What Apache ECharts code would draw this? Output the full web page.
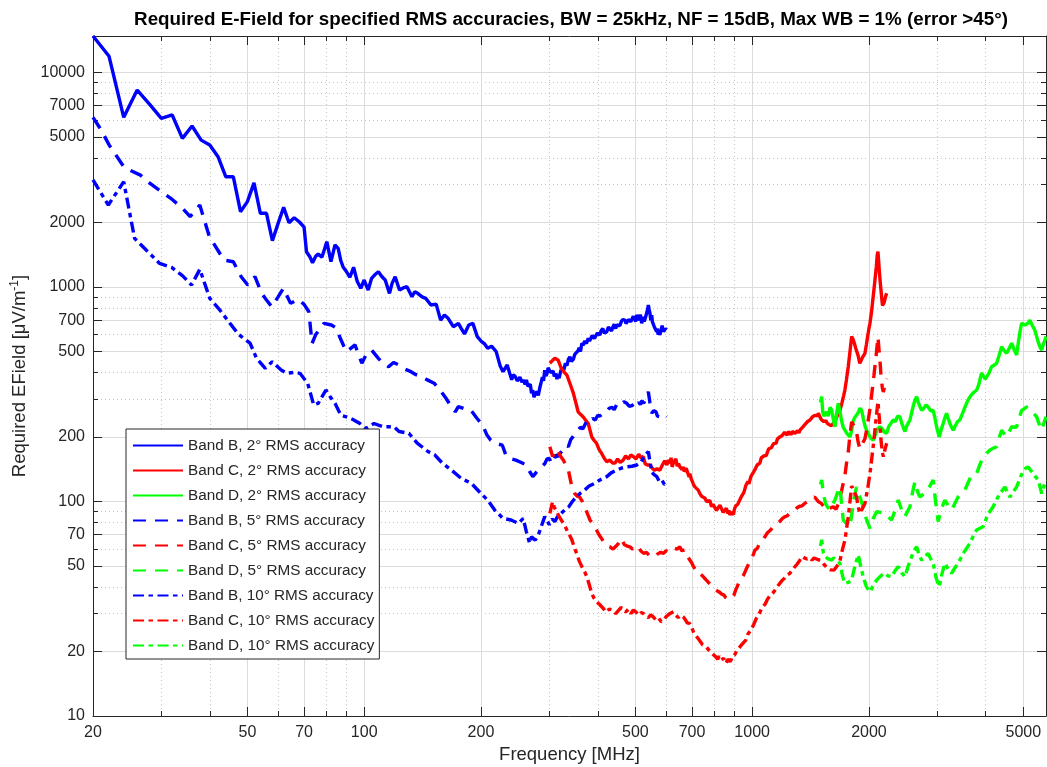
<!DOCTYPE html>
<html>
<head>
<meta charset="utf-8">
<script src="https://cdn.jsdelivr.net/npm/echarts@6/dist/echarts.min.js"></script>
<style>
  html, body { margin: 0; padding: 0; background: #fff; }
  #chart { width: 1047px; height: 767px; }
</style>
</head>
<body>
<div id="chart"></div>
<script>
// tick values (MATLAB style log axes)
const xMajor = [20, 50, 70, 100, 200, 500, 700, 1000, 2000, 5000]
const xMinor = [30, 40, 60, 80, 90, 300, 400, 600, 800, 900, 3000, 4000]
const yMajor = [10, 20, 50, 70, 100, 200, 500, 700, 1000, 2000, 5000, 7000, 10000]
const yMinor = [30, 40, 60, 80, 90, 300, 400, 600, 800, 900, 3000, 4000, 6000, 8000, 9000]

// [frequency MHz, required field uV/m]
const bandB2 = [[20, 14800], [22, 11900], [24, 6180], [26, 8280], [28, 7100], [30, 6115], [32, 6340], [34, 4930], [36, 5630], [38, 4840], [40, 4590], [42, 4050], [44, 3265], [46, 3265], [48, 2245], [50, 2500], [52, 3060], [54, 2206], [56, 2206], [58, 1645], [60, 1980], [62, 2352], [64, 1994], [66, 2104], [68, 2015], [70, 1900], [71, 1461], [72.5, 1380], [73.6, 1298], [75, 1390], [76.1, 1426], [77.8, 1376], [79, 1500], [80.1, 1627], [82.1, 1312], [84.1, 1570], [85.7, 1514], [87, 1330], [88.3, 1236], [90, 1180], [91.9, 1110], [93.9, 1236], [96, 1060], [98, 986], [100, 1078], [102.4, 968], [104.5, 1098], [106.5, 1140], [108.8, 1178], [111, 1120], [113.3, 1078], [116.2, 934], [118, 1040], [120.2, 1117], [123.3, 968], [126, 990], [128.9, 1003], [132.8, 901], [135, 950], [137.4, 934], [141, 900], [144.1, 885], [148.6, 824], [153.3, 832], [157.4, 701], [161, 740], [164.6, 715], [169.7, 653], [174.9, 677], [178, 640], [181.4, 604], [186, 665], [190.6, 677], [195.7, 587], [200, 560], [204, 545], [208.1, 518], [213, 530], [218.9, 500], [224, 430], [228, 403], [233.7, 433], [240, 369], [242, 390], [245, 383], [248, 365], [252, 380], [255, 360], [257, 369], [260, 352], [262, 369], [264, 345], [266, 340], [268, 352], [270, 320], [272, 330], [274, 306], [276, 318], [279, 325], [281, 312], [284, 343], [286, 360], [288, 380], [290, 365], [292, 410], [294, 385], [296, 395], [298, 420], [300, 418], [302, 400], [305, 395], [307, 405], [309, 383], [312, 395], [314, 372], [316, 390], [318, 376], [321, 405], [324, 422], [327, 410], [330, 440], [333, 430], [336, 460], [339, 473], [342, 450], [346, 460], [349, 485], [353, 482], [356, 505], [358, 520], [361, 500], [364, 547], [367, 535], [370, 560], [374, 545], [378, 577], [381, 560], [384, 570], [387, 595], [389, 587], [392, 575], [395, 590], [399, 610], [405, 598], [408, 625], [412, 640], [416, 610], [422, 619], [426, 650], [430, 640], [434, 625], [438, 653], [441, 670], [445, 640], [448, 665], [452, 677], [456, 660], [460, 690], [464, 705], [470, 701], [473, 675], [476, 680], [480, 705], [483, 714], [487, 690], [490, 700], [494, 730], [497, 720], [501, 690], [504, 740], [508, 720], [512, 700], [515, 745], [519, 677], [522, 700], [524, 727], [527, 690], [529, 700], [532, 730], [535, 760], [538, 790], [540, 824], [543, 780], [545, 760], [548, 700], [551, 740], [553, 690], [556, 680], [559, 655], [562, 642], [565, 665], [567, 620], [570, 640], [572, 600], [575, 615], [578, 598], [581, 620], [583, 630], [586, 660], [588, 642], [591, 620], [594, 610], [598, 640], [602, 632]]

const bandC2 = [[301, 441], [306, 455], [310, 465], [316, 457], [322, 418], [328, 400], [333, 389], [339, 356], [346, 320], [351, 290], [356, 262], [361, 255], [367, 248], [372, 240], [378, 231], [382, 215], [386, 200], [392, 192], [397, 187], [403, 175], [409, 168], [415, 160], [422, 153], [430, 156], [437, 151], [443, 151], [450, 158], [457, 152], [465, 156], [472, 163], [480, 158], [487, 165], [494, 162], [502, 158], [510, 166], [517, 160], [524, 162], [530, 150], [537, 148], [545, 148], [553, 143], [560, 140], [568, 142], [578, 140], [587, 148], [595, 155], [603, 148], [608, 156], [614, 151], [618, 160], [622, 145], [627, 152], [632, 149], [636, 158], [641, 146], [646, 150], [651, 145], [655, 148], [660, 141], [664, 145], [668, 138], [676, 143], [684, 140], [688, 130], [691, 135], [696, 128], [700, 125], [706, 120], [712, 117], [718, 118], [726, 113], [733, 109], [740, 106], [748, 107], [756, 103.5], [763, 100], [770, 98], [778, 101], [786, 94.6], [793, 97], [800, 96], [809, 91], [818, 92], [826, 96], [834, 94.6], [842, 89], [850, 90], [858, 93], [866, 88], [871, 91], [876, 86.5], [883, 89], [890, 90], [895, 87], [900, 92], [906, 95], [912, 94.6], [918, 97], [925, 100], [931, 99], [937, 105], [943, 104], [949, 109], [955, 112], [962, 118], [968, 116], [975, 124], [981, 121], [987, 126], [993, 131], [1000, 132], [1008, 137], [1015, 140], [1022, 138], [1030, 148], [1038, 146], [1047, 151], [1056, 160], [1065, 158], [1072, 163], [1080, 166], [1088, 164], [1095, 170], [1103, 176], [1111, 174], [1120, 178], [1128, 182], [1136, 186], [1145, 190], [1153, 187], [1162, 196], [1170, 193], [1179, 200], [1187, 198], [1195, 203], [1203, 199], [1212, 210], [1220, 214], [1230, 204], [1240, 212], [1251, 208], [1260, 205], [1270, 212], [1280, 216], [1290, 208], [1300, 211], [1310, 214], [1320, 209], [1328, 215], [1340, 219], [1350, 222], [1361, 226], [1372, 230], [1381, 228], [1390, 236], [1400, 233], [1410, 240], [1420, 244], [1430, 248], [1440, 245], [1450, 252], [1458, 249], [1466, 255], [1474, 251], [1481, 258], [1495, 248], [1510, 240], [1520, 243], [1530, 236], [1541, 235], [1550, 238], [1560, 232], [1570, 234], [1580, 228], [1590, 230], [1600, 226], [1610, 224], [1618, 227], [1630, 234], [1640, 240], [1650, 246], [1660, 252], [1672, 258], [1684, 267], [1695, 278], [1705, 290], [1720, 310], [1734, 331], [1750, 370], [1769, 425], [1787, 500], [1805, 588], [1820, 570], [1835, 545], [1848, 520], [1859, 527], [1875, 480], [1894, 441], [1910, 455], [1925, 470], [1940, 480], [1953, 491], [1970, 540], [1985, 590], [2000, 640], [2012, 677], [2030, 760], [2045, 860], [2060, 968], [2075, 1100], [2090, 1250], [2100, 1400], [2110, 1461], [2120, 1300], [2130, 1150], [2140, 1040], [2148, 968], [2160, 870], [2168, 820], [2178, 809], [2190, 850], [2200, 880], [2210, 910], [2222, 935]]

const bandD2 = [[1500, 290], [1511, 308], [1520, 262], [1530, 250], [1541, 245], [1556, 262], [1570, 250], [1588, 275], [1603, 266], [1620, 240], [1635, 223], [1650, 255], [1667, 287], [1685, 262], [1700, 238], [1717, 222], [1734, 215], [1760, 206], [1787, 200], [1805, 214], [1822, 238], [1840, 247], [1859, 253], [1880, 262], [1897, 272], [1915, 266], [1935, 243], [1955, 224], [1973, 215], [1995, 206], [2020, 198], [2051, 193], [2075, 204], [2100, 217], [2134, 223], [2160, 219], [2190, 211], [2222, 208], [2250, 224], [2280, 232], [2310, 240], [2340, 236], [2370, 250], [2404, 248], [2430, 232], [2455, 220], [2476, 212], [2500, 224], [2525, 232], [2551, 240], [2580, 262], [2610, 285], [2630, 298], [2655, 308], [2680, 290], [2710, 276], [2735, 266], [2770, 272], [2805, 282], [2842, 276], [2885, 265], [2928, 266], [2960, 244], [2990, 222], [3034, 200], [3070, 216], [3107, 231], [3140, 246], [3170, 258], [3210, 240], [3250, 226], [3297, 215], [3340, 226], [3385, 236], [3430, 240], [3475, 254], [3520, 270], [3569, 287], [3620, 302], [3677, 315], [3730, 323], [3790, 331], [3840, 352], [3875, 378], [3904, 397], [3950, 382], [3990, 372], [4021, 369], [4080, 398], [4142, 425], [4200, 432], [4267, 441], [4330, 480], [4396, 527], [4460, 505], [4527, 491], [4600, 518], [4665, 547], [4735, 510], [4805, 482], [4860, 560], [4910, 630], [4950, 677], [5000, 690], [5050, 665], [5098, 653], [5150, 680], [5200, 700], [5250, 672], [5300, 665], [5350, 630], [5412, 587], [5460, 555], [5520, 525], [5575, 508], [5620, 535], [5680, 565], [5720, 587]]

const bandB5 = [[20, 6180], [21, 5395], [22, 4600], [24, 3640], [24.6, 3535], [26.5, 3325], [28, 3050], [30, 2783], [32, 2560], [34, 2330], [35.6, 2130], [37.7, 2412], [39.9, 1716], [42, 1480], [43.5, 1336], [46, 1312], [48.2, 1117], [50.1, 1021], [52.3, 1117], [54.4, 935], [56, 870], [57.8, 809], [60, 900], [61.9, 986], [64.6, 839], [67.6, 876], [70, 830], [72, 767], [73.4, 546], [75, 600], [78.8, 677], [82.3, 665], [85, 642], [86.4, 588], [89.9, 500], [92, 515], [94.7, 537], [98.6, 441], [101, 480], [104.5, 508], [108.8, 465], [112, 440], [115.6, 425], [119, 445], [122.8, 433], [127, 415], [132, 403], [136, 390], [140, 383], [145, 370], [151.5, 356], [157, 330], [162.5, 303], [167, 280], [171.7, 262], [174.8, 277], [182, 270], [188.6, 266], [195, 245], [202, 227], [207, 205], [212, 193], [220, 186], [227, 183], [232.6, 162], [240, 158], [246, 156], [254, 152], [262, 148], [267, 138], [272, 130.6], [278, 137], [284, 143], [292, 150], [296, 158], [300, 159], [304, 150], [308, 155], [312, 165], [316, 162], [320, 168], [324, 172], [328, 178], [332, 183], [336, 180], [341, 195], [345, 200], [350, 208], [355, 214], [361, 222], [366, 218], [372, 231], [377, 240], [383, 236], [388, 244], [394, 240], [400, 252], [405, 250], [412, 258], [422, 262], [428, 272], [435, 275], [441, 268], [447, 282], [453, 290], [460, 285], [467, 292], [475, 287], [482, 278], [490, 280], [497, 286], [504, 277], [510, 290], [515, 283], [520, 295], [525, 287], [532, 300], [540, 325], [545, 290], [551, 258], [558, 265], [565, 262], [570, 250], [575, 255], [580, 248], [585, 252], [590, 255], [595, 250], [602, 248]]

const bandC5 = [[301, 180], [306, 162], [311, 175], [316, 171], [321, 162], [326, 156], [331, 148], [336, 140], [343, 117], [349, 109], [354, 106], [359, 105], [365, 100], [370, 94.6], [376, 88], [382, 82], [390, 78], [397, 73.7], [403, 70], [409, 67.3], [416, 64], [423, 62], [430, 61.5], [438, 60], [446, 62], [453, 64], [461, 67.3], [468, 63], [476, 62], [484, 61.5], [492, 60], [500, 62], [508, 61.5], [516, 59], [525, 57.3], [534, 58], [543, 56], [552, 55.4], [562, 55.4], [571, 57], [581, 58], [591, 57.3], [600, 59], [610, 58], [620, 59.4], [630, 60.5], [640, 60], [651, 61.5], [658, 59], [664, 58], [671, 59.5], [678, 56.4], [684, 55], [691, 53.3], [698, 52], [705, 50], [710, 49], [715, 48], [720, 49], [726, 47.9], [735, 46], [745, 45], [753, 44], [762, 43], [771, 42.2], [780, 41], [785, 41.5], [790, 40], [798, 39.5], [805, 38.7], [812, 39.3], [820, 38], [828, 37.5], [835, 37], [840, 37.6], [846, 36.6], [853, 35.8], [860, 35.5], [870, 35], [880, 34.7], [888, 35.6], [897, 36.5], [906, 38.5], [915, 40.1], [927, 42.4], [940, 44], [951, 45.5], [963, 47.9], [976, 50.5], [990, 53], [1003, 55.5], [1017, 59.4], [1031, 60.5], [1045, 64], [1062, 65.5], [1079, 68.6], [1095, 71.5], [1110, 73], [1128, 75.5], [1145, 77.7], [1162, 78.8], [1180, 81], [1197, 83.5], [1214, 84.9], [1232, 85.8], [1250, 88], [1270, 90], [1288, 91.2], [1306, 93.5], [1325, 95], [1345, 95.5], [1366, 98], [1385, 99.5], [1405, 101], [1427, 103.5], [1449, 105], [1480, 100], [1507, 98], [1530, 95], [1552, 91.2], [1585, 93], [1618, 94.6], [1645, 92], [1670, 98], [1700, 112], [1734, 132], [1750, 150], [1769, 170], [1787, 205], [1805, 235], [1830, 225], [1859, 210], [1875, 190], [1894, 176], [1920, 185], [1953, 196], [1985, 230], [2012, 270], [2035, 320], [2060, 387], [2085, 470], [2110, 585], [2125, 500], [2140, 430], [2148, 387], [2165, 340], [2178, 324], [2200, 350], [2222, 374]]

const bandD5 = [[1500, 120], [1511, 126], [1526, 109], [1545, 98], [1565, 94], [1587, 91.2], [1610, 97], [1635, 101.6], [1660, 110], [1683, 117], [1700, 98], [1717, 82], [1750, 79], [1787, 76.4], [1810, 90], [1835, 106], [1859, 117], [1878, 110], [1896, 105], [1930, 95], [1950, 88], [1973, 82], [2012, 75], [2050, 83], [2093, 89.6], [2140, 89], [2198, 88], [2240, 85], [2288, 82], [2330, 90], [2380, 101.6], [2425, 92], [2476, 84.9], [2515, 90], [2551, 94.6], [2590, 110], [2628, 124], [2665, 112], [2707, 105], [2760, 108], [2815, 111], [2870, 118], [2928, 126], [2970, 100], [3016, 80.6], [3070, 92], [3138, 101.6], [3200, 96], [3266, 91.2], [3330, 98], [3395, 105], [3460, 109], [3534, 113], [3600, 122], [3677, 133], [3730, 134], [3790, 135], [3860, 148], [3941, 162], [4020, 168], [4101, 174], [4180, 177], [4267, 180], [4330, 198], [4396, 215], [4460, 207], [4527, 200], [4600, 212], [4665, 223], [4735, 222], [4805, 223], [4880, 245], [4950, 266], [5020, 270], [5098, 276], [5170, 272], [5250, 266], [5330, 256], [5412, 248], [5490, 230], [5575, 215], [5650, 232], [5720, 248]]

const bandB10 = [[20, 3155], [21.9, 2412], [24, 3097], [25.6, 1686], [27.5, 1480], [29.7, 1288], [31.9, 1234], [34, 1130], [35.9, 1022], [37.7, 1209], [40, 885], [42.1, 796], [45.1, 677], [47.5, 600], [50.8, 547], [52.8, 465], [55.6, 418], [57.9, 448], [61.1, 410], [63.2, 396], [66, 400], [68.3, 396], [71.5, 356], [74.1, 282], [76.1, 287], [79.7, 331], [82, 305], [84.1, 287], [87, 253], [91.8, 245], [94, 240], [97.5, 231], [101, 219], [106, 231], [112, 223], [119.3, 223], [123, 212], [130.4, 208], [137, 187], [146, 171], [152, 165], [159, 151], [168, 140], [178, 128], [189, 121.5], [200, 109], [208, 101.6], [217, 91.2], [228, 83.4], [239, 82], [250, 79.1], [257, 83.4], [262, 72], [267, 63.8], [270, 68.5], [276, 66], [282, 71], [292, 85], [300, 78], [305, 83], [310, 80.6], [316, 86], [322, 88], [330, 92], [337, 94.6], [344, 100], [352, 105], [360, 109], [370, 113], [380, 118], [393, 121.5], [405, 126], [422, 130.6], [433, 136], [447, 140], [460, 143], [475, 145], [490, 146], [504, 148], [516, 152], [527, 162], [540, 171], [551, 137], [560, 133], [568, 130.6], [576, 124], [585, 126], [594, 120], [602, 121.5]]

const bandC10 = [[301, 88], [306, 99.7], [309, 94], [312, 91.2], [317, 86], [322, 82], [328, 78], [333, 73.7], [338, 70], [343, 66.3], [348, 61], [353, 57.3], [358, 53], [364, 49.7], [370, 47], [375, 44.6], [381, 40.5], [386, 37.3], [391, 35.5], [397, 34.1], [405, 33], [413, 31.8], [420, 30.5], [428, 31.5], [437, 31.2], [445, 30], [452, 31], [459, 32], [465, 31.8], [472, 30.5], [480, 31.5], [487, 30], [494, 31.2], [502, 30.5], [510, 29.5], [517, 30.3], [524, 30.1], [532, 29.3], [540, 28.8], [548, 29.6], [556, 29], [565, 28], [574, 28.6], [583, 27.5], [591, 28], [600, 29], [610, 29.8], [618, 30.2], [627, 30.6], [636, 29.5], [645, 28.8], [655, 29.5], [664, 29], [672, 28.2], [680, 27.2], [690, 27], [698, 26], [708, 24.3], [720, 23.4], [732, 22.5], [745, 21.5], [762, 21], [770, 20.6], [778, 20], [784, 20.3], [790, 19.5], [798, 19.2], [805, 18.9], [815, 18.4], [822, 19], [827, 18.9], [833, 18.2], [838, 18], [844, 18.6], [849, 18.2], [855, 17.6], [860, 17.8], [866, 18.4], [872, 18.5], [877, 17.9], [883, 18.3], [888, 19], [894, 18.9], [900, 19.2], [907, 19.5], [914, 20.2], [921, 20.3], [930, 21], [940, 21.5], [951, 21.8], [963, 22.6], [974, 24], [985, 24.5], [998, 25.6], [1012, 27], [1025, 28.5], [1038, 29.5], [1052, 31], [1065, 32.3], [1080, 33.2], [1095, 35], [1112, 36.4], [1129, 37.3], [1145, 38.6], [1160, 40], [1178, 41.5], [1197, 43], [1213, 44], [1230, 45.5], [1250, 46.2], [1269, 47.9], [1287, 49.5], [1305, 51], [1325, 53], [1346, 55.4], [1365, 54.5], [1385, 54], [1405, 54.8], [1427, 53.3], [1444, 54.5], [1460, 54], [1480, 53.5], [1499, 53.3], [1530, 51], [1564, 48.9], [1595, 48], [1626, 47.9], [1655, 50], [1684, 53], [1710, 60], [1734, 66], [1752, 75], [1769, 85], [1787, 100], [1805, 118], [1830, 112], [1859, 105], [1875, 95], [1894, 88], [1920, 92], [1953, 98], [1985, 115], [2012, 135], [2035, 160], [2060, 194], [2085, 240], [2110, 292], [2125, 250], [2140, 215], [2148, 194], [2165, 170], [2178, 162], [2200, 175], [2222, 187]]

const bandD10 = [[1500, 62], [1511, 66.3], [1525, 58], [1541, 55.4], [1570, 54], [1603, 53.3], [1620, 54.5], [1635, 55.4], [1660, 53], [1683, 51.5], [1710, 45], [1734, 41.5], [1770, 42], [1805, 43], [1840, 50], [1877, 56.4], [1905, 50], [1933, 44.6], [1970, 40], [2012, 37.9], [2050, 40.5], [2093, 43], [2145, 45], [2198, 46.3], [2240, 45], [2288, 44.6], [2335, 47.5], [2380, 49.7], [2430, 46.5], [2476, 44.6], [2525, 50], [2577, 55.4], [2615, 59], [2655, 61.5], [2695, 56], [2735, 53.3], [2790, 55.5], [2842, 57.3], [2885, 54], [2928, 51.5], [2980, 44], [3034, 40.1], [3085, 46], [3138, 51.5], [3200, 48.5], [3266, 46.3], [3330, 49], [3395, 51.5], [3450, 54.5], [3499, 57.3], [3570, 60.5], [3640, 63.8], [3715, 69], [3790, 73.7], [3865, 75], [3941, 76.4], [4000, 82], [4060, 88], [4120, 91], [4180, 94.6], [4265, 102], [4352, 109], [4420, 113], [4482, 117], [4550, 110], [4618, 105], [4710, 111], [4805, 117], [4900, 128], [5000, 140], [5070, 143], [5146, 145], [5220, 140], [5300, 135], [5380, 130], [5463, 126], [5520, 117], [5575, 109], [5650, 118], [5720, 126]]

const xMin = 20
const xMax = 5720
const yMin = 10
const yMax = 14800

const font = 'Liberation Sans, Arial, Helvetica, sans-serif'
const axisColor = '#262626'
const dashed = [13, 9]
const dashDot = [11, 4.5, 4.5, 4.5]

function makeSeries (name, data, color, type) {
  return {
    name: name,
    type: 'line',
    data: data,
    showSymbol: false,
    symbol: 'none',
    clip: true,
    lineStyle: { color: color, width: 3.4, type: type },
    itemStyle: { color: color }
  }
}

const series = [
  makeSeries('Band B, 2° RMS accuracy', bandB2, '#0000ff', 'solid'),
  makeSeries('Band C, 2° RMS accuracy', bandC2, '#ff0000', 'solid'),
  makeSeries('Band D, 2° RMS accuracy', bandD2, '#00ff00', 'solid'),
  makeSeries('Band B, 5° RMS accuracy', bandB5, '#0000ff', dashed),
  makeSeries('Band C, 5° RMS accuracy', bandC5, '#ff0000', dashed),
  makeSeries('Band D, 5° RMS accuracy', bandD5, '#00ff00', dashed),
  makeSeries('Band B, 10° RMS accuracy', bandB10, '#0000ff', dashDot),
  makeSeries('Band C, 10° RMS accuracy', bandC10, '#ff0000', dashDot),
  makeSeries('Band D, 10° RMS accuracy', bandD10, '#00ff00', dashDot)
]

// one axis for major ticks/grid, one for minor, on each side
function xAxisOf (position, values, major, withLabel) {
  return {
    type: 'log',
    min: xMin,
    max: xMax,
    position: position,
    axisLine: { show: major, onZero: false, lineStyle: { color: axisColor, width: 1 } },
    axisTick: { show: true, inside: true, length: major ? 9 : 5, customValues: values, lineStyle: { color: axisColor } },
    axisLabel: {
      show: withLabel,
      customValues: values,
      formatter: function (v) { return String(Math.round(v)) },
      fontSize: 16,
      fontFamily: font,
      color: axisColor,
      margin: 9
    },
    splitLine: {
      show: position === 'bottom',
      lineStyle: major ? { color: '#dcdcdc', width: 1 } : { color: '#c4c4c4', width: 1, type: [1, 3] }
    }
  }
}

function yAxisOf (position, values, major, withLabel) {
  return {
    type: 'log',
    min: yMin,
    max: yMax,
    position: position,
    axisLine: { show: major, onZero: false, lineStyle: { color: axisColor, width: 1 } },
    axisTick: { show: true, inside: true, length: major ? 9 : 5, customValues: values, lineStyle: { color: axisColor } },
    axisLabel: {
      show: withLabel,
      customValues: values,
      formatter: function (v) { return String(Math.round(v)) },
      fontSize: 16,
      fontFamily: font,
      color: axisColor,
      margin: 8
    },
    splitLine: {
      show: position === 'left',
      lineStyle: major ? { color: '#dcdcdc', width: 1 } : { color: '#c4c4c4', width: 1, type: [1, 3] }
    }
  }
}

const xAxes = [
  xAxisOf('bottom', xMajor, true, true),
  xAxisOf('bottom', xMinor, false, false),
  xAxisOf('top', xMajor, true, false),
  xAxisOf('top', xMinor, false, false)
]
xAxes[0].name = 'Frequency [MHz]'
xAxes[0].nameLocation = 'middle'
xAxes[0].nameGap = 20
xAxes[0].nameTextStyle = { fontSize: 18.5, fontFamily: font, color: axisColor }

const yAxes = [
  yAxisOf('left', yMajor, true, true),
  yAxisOf('left', yMinor, false, false),
  yAxisOf('right', yMajor, true, false),
  yAxisOf('right', yMinor, false, false)
]
yAxes[0].name = 'Required EField [μV/m{sup|-1}]'
yAxes[0].nameLocation = 'middle'
yAxes[0].nameGap = 55
yAxes[0].nameRotate = 90
yAxes[0].nameTextStyle = {
  fontSize: 18.5,
  fontFamily: font,
  color: axisColor,
  rich: { sup: { fontSize: 12, fontFamily: font, color: axisColor, padding: [0, 0, 10, 0] } }
}

const chart = echarts.init(document.getElementById('chart'), null, { renderer: 'canvas' })
chart.setOption({
  animation: false,
  backgroundColor: '#ffffff',
  title: {
    text: 'Required E-Field for specified RMS accuracies, BW = 25kHz, NF = 15dB, Max WB = 1% (error >45°)',
    left: 566,
    top: 5,
    textAlign: 'center',
    textStyle: { fontSize: 18.8, fontWeight: 'bold', fontFamily: font, color: '#000' }
  },
  grid: { left: 93, right: 1, top: 36, bottom: 51, containLabel: false, outerBoundsMode: 'none' },
  legend: {
    orient: 'vertical',
    left: 126,
    top: 429,
    itemWidth: 50,
    itemHeight: 15,
    itemGap: 10,
    padding: [9, 5, 6, 6],
    borderColor: axisColor,
    borderWidth: 1,
    backgroundColor: '#ffffff',
    itemStyle: { opacity: 0 },
    textStyle: { fontSize: 15.3, fontFamily: font, color: axisColor },
    data: series.map(function (s) { return s.name })
  },
  xAxis: xAxes,
  yAxis: yAxes,
  series: series
})
</script>
</body>
</html>
